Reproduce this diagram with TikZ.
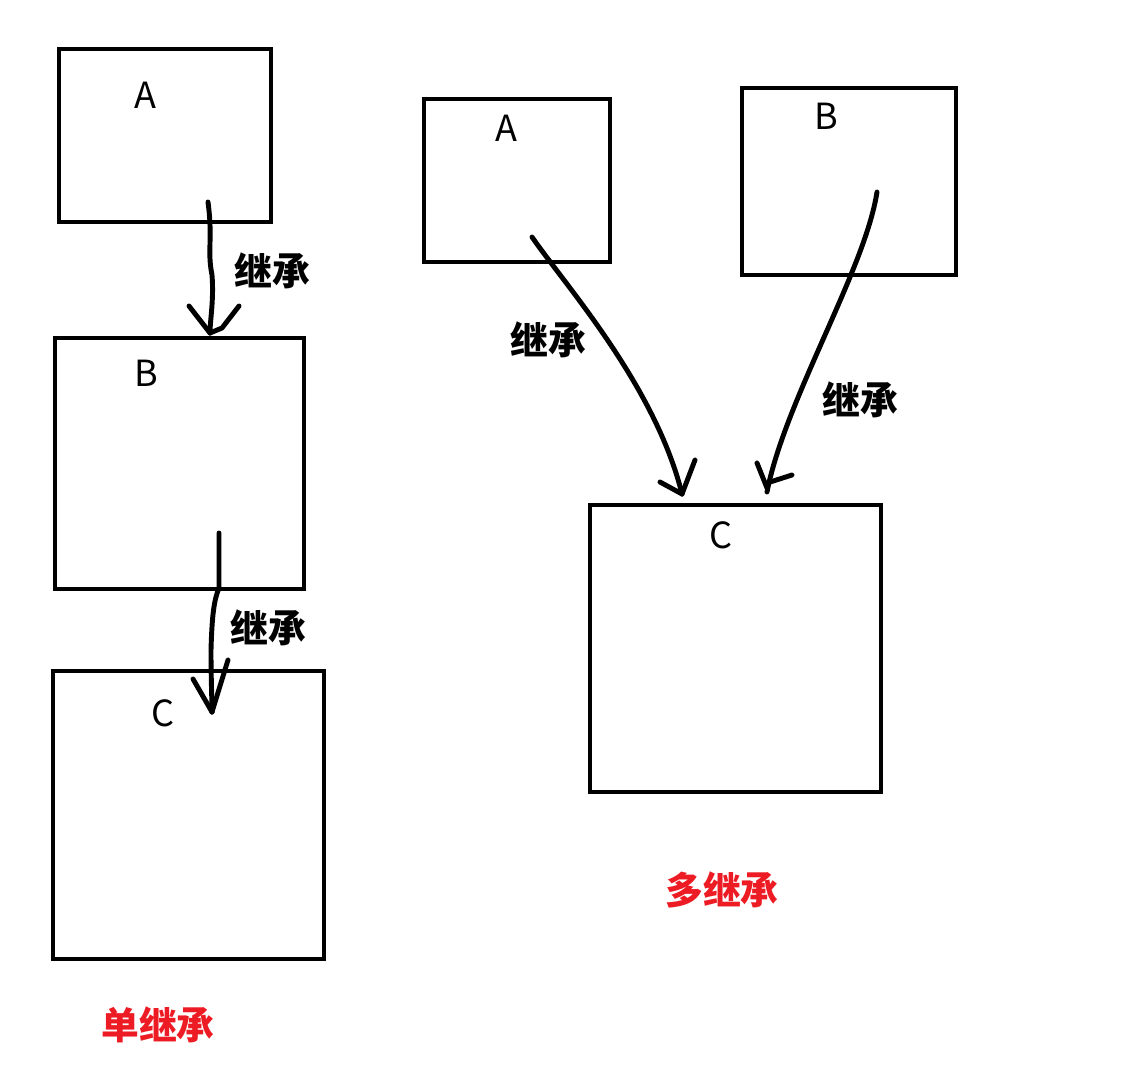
\documentclass[tikz,border=0pt]{standalone}
\usepackage{fontspec}
\newfontfamily\cjk{Noto Sans CJK SC}
\definecolor{lblred}{RGB}{237,28,36}
\begin{document}
\begin{tikzpicture}[x=0.02cm,y=-0.02cm,
  box/.style={draw=black,line width=2.4pt,inner sep=0pt},
  letter/.style={font=\cjk\fontsize{20.5}{22}\selectfont,inner sep=0pt},
  inh/.style={font=\cjk\bfseries\fontsize{21.5}{23}\selectfont,inner sep=0pt},
  title/.style={font=\cjk\bfseries\fontsize{21.5}{23}\selectfont,text=lblred,inner sep=0pt},
  stroke/.style={line width=2.8pt,line cap=round,line join=round}]
\useasboundingbox[fill=white] (0,0) rectangle (1137,1085);
% boxes
\node[box,minimum width=4.24cm,minimum height=3.46cm] (LA) at (165,135.5) {};
\node[box,minimum width=4.98cm,minimum height=5.02cm] (LB) at (179.5,463.5) {};
\node[box,minimum width=5.42cm,minimum height=5.76cm] (LC) at (188.5,815) {};
\node[box,minimum width=3.72cm,minimum height=3.26cm] (RA) at (517,180.5) {};
\node[box,minimum width=4.28cm,minimum height=3.74cm] (RB) at (849,181.5) {};
\node[box,minimum width=5.82cm,minimum height=5.74cm] (RC) at (735.5,648.5) {};
% letters
\node[letter] (tLA) at (145,95) {A};
\node[letter] (tLB) at (146,373) {B};
\node[letter] (tLC) at (163,713) {C};
\node[letter] (tRA) at (506,128) {A};
\node[letter] (tRB) at (826,116) {B};
\node[letter] (tRC) at (721,535) {C};
% inheritance labels
\node[inh] (i1) at (272,271) {继承};
\node[inh] (i2) at (268,628) {继承};
\node[inh] (i3) at (548,340) {继承};
\node[inh] (i4) at (860,400) {继承};
\node[title] (t1) at (158,1025) {单继承};
\node[title] (t2) at (722,890) {多继承};
% arrow coordinates
\coordinate (s1) at (208,202);
\coordinate (e1) at (210,333);
\coordinate (s2) at (219,533);
\coordinate (e2) at (212,712);
\coordinate (s3) at (532,237);
\coordinate (e3) at (682,494);
\coordinate (s4) at (877,192);
\coordinate (e4) at (767,492);
% arrow 1: A -> B (left)
\draw[stroke] (s1) .. controls (213,240) and (207,250) .. (212,275) .. controls (214,300) and (210,320) .. (e1);
\draw[stroke] (189,306) -- (e1);
\draw[stroke] (239,306) -- (222,328) -- (e1);
% arrow 2: B -> C (left)
\draw[stroke] (s2) -- (219,588) .. controls (214,600) and (212,615) .. (211,650) .. controls (211,680) and (212,700) .. (e2);
\draw[stroke] (193,679) -- (e2);
\draw[stroke] (228,660) -- (e2);
% arrow 3: A -> C (right)
\draw[stroke] (s3) .. controls (565,285) and (655,385) .. (e3);
\draw[stroke] (660,482) -- (e3);
\draw[stroke] (695,460) -- (e3);
% arrow 4: B -> C (right)
\draw[stroke] (s4) .. controls (865,270) and (785,400) .. (e4);
\draw[stroke] (757,463) -- (767,488);
\draw[stroke] (792,475) -- (767,483);
\end{tikzpicture}
\end{document}
